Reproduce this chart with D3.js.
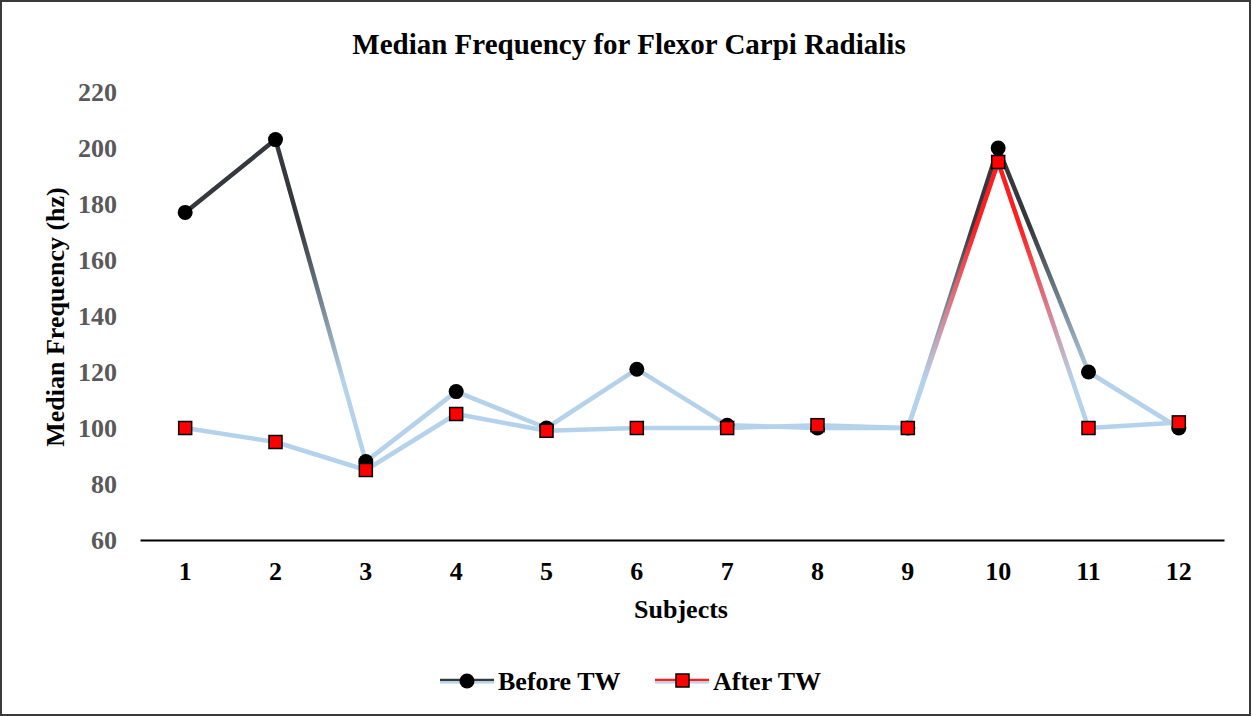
<!DOCTYPE html>
<html><head><meta charset="utf-8">
<script src="https://cdn.jsdelivr.net/npm/d3@7"></script>
<style>body{margin:0;background:#fff}svg{display:block}text{font-family:"Liberation Serif","Times New Roman",serif;font-weight:bold}</style>
</head><body><svg id="c" width="1252" height="716"></svg>
<script>
const subjects = ["1","2","3","4","5","6","7","8","9","10","11","12"];
const beforeTW = [177,203,88,113,100,121,101,100,100,200,120,100];
const afterTW = [100,95,85,105,99,100,100,101,100,195,100,102];
const yTicks = [60,80,100,120,140,160,180,200,220];

const svg = d3.select("#c");
svg.append("rect").attr("x",1).attr("y",1).attr("width",1249).attr("height",714)
  .attr("fill","#fff").attr("stroke","#3a3a3a").attr("stroke-width",2);

const x = d3.scaleBand().domain(subjects).range([140,1224]);
const y = d3.scaleLinear().domain([60,220]).range([540,92]);
const cx = d => x(d)+x.bandwidth()/2;

const defs = svg.append("defs");
function grad(id, top){
  const g = defs.append("linearGradient").attr("id",id).attr("gradientUnits","userSpaceOnUse")
    .attr("x1",0).attr("x2",0).attr("y1",y(172)).attr("y2",y(117));
  g.append("stop").attr("offset",0).attr("stop-color",top);
  g.append("stop").attr("offset",1).attr("stop-color","#b4d2eb");
}
grad("gB","#35393d");
grad("gA","#ff1e1e");

// title
svg.append("text").attr("x",629).attr("y",54).attr("text-anchor","middle")
  .attr("font-size",29).attr("fill","#000").text("Median Frequency for Flexor Carpi Radialis");

// y axis labels
const ya = svg.append("g").attr("transform","translate(117,0)")
  .call(d3.axisLeft(y).tickValues(yTicks).tickSize(0).tickPadding(0));
ya.select(".domain").remove();
ya.selectAll("text").attr("font-size",26).attr("fill","#595959")
  .attr("font-family","Liberation Serif").attr("font-weight","bold").attr("dy","0.34em");

// x axis
const xa = svg.append("g").attr("transform","translate(0,540)")
  .call(d3.axisBottom(x).tickSize(0).tickPadding(0));
xa.select(".domain").attr("stroke","#000").attr("stroke-width",2);
xa.selectAll("text").attr("font-size",26).attr("fill","#000")
  .attr("font-family","Liberation Serif").attr("font-weight","bold").attr("dy","1.53em");

svg.append("text").attr("x",681).attr("y",618).attr("text-anchor","middle")
  .attr("font-size",26).attr("fill","#000").text("Subjects");
svg.append("text").attr("transform","translate(64,317) rotate(-90)").attr("text-anchor","middle")
  .attr("font-size",26).attr("fill","#000").text("Median Frequency (hz)");

const line = d3.line().x((d,i)=>cx(subjects[i])).y(d=>y(d));

svg.append("path").datum(beforeTW).attr("d",line).attr("fill","none")
  .attr("stroke","url(#gB)").attr("stroke-width",4.5).attr("stroke-linejoin","round");
svg.append("g").selectAll("circle").data(beforeTW).join("circle")
  .attr("cx",(d,i)=>cx(subjects[i])).attr("cy",d=>y(d)).attr("r",7.5).attr("fill","#000");

svg.append("path").datum(afterTW).attr("d",line).attr("fill","none")
  .attr("stroke","url(#gA)").attr("stroke-width",4.5).attr("stroke-linejoin","round");
svg.append("g").selectAll("rect").data(afterTW).join("rect")
  .attr("x",(d,i)=>cx(subjects[i])-6.5).attr("y",d=>y(d)-6.5).attr("width",13).attr("height",13)
  .attr("fill","#ff0000").attr("stroke","#000").attr("stroke-width",1.5);

// legend
const lg = svg.append("g");
function legLine(x0,x1,yy,top){
  lg.append("line").attr("x1",x0).attr("x2",x1).attr("y1",yy-1).attr("y2",yy-1).attr("stroke",top).attr("stroke-width",2.5);
  lg.append("line").attr("x1",x0).attr("x2",x1).attr("y1",yy+1.5).attr("y2",yy+1.5).attr("stroke","#b4d2eb").attr("stroke-width",2);
}
legLine(440,494,681,"#35393d");
lg.append("circle").attr("cx",467).attr("cy",681).attr("r",7.5).attr("fill","#000");
lg.append("text").attr("x",498).attr("y",690).attr("font-size",26).attr("fill","#000").text("Before TW");
legLine(655,709,681,"#ff1e1e");
lg.append("rect").attr("x",676).attr("y",674).attr("width",13).attr("height",13).attr("fill","#ff0000").attr("stroke","#000").attr("stroke-width",1.5);
lg.append("text").attr("x",713).attr("y",690).attr("font-size",26).attr("fill","#000").text("After TW");
</script></body></html>
